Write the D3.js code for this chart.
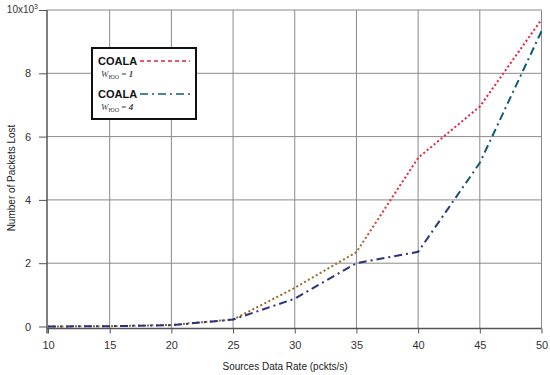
<!DOCTYPE html>
<html><head><meta charset="utf-8">
<script src="https://cdn.jsdelivr.net/npm/d3@7"></script>
<style>
html,body{margin:0;padding:0;background:#fff;}
svg{display:block;font-family:"Liberation Sans",Arial,sans-serif;}
</style></head>
<body>
<svg id="c" width="550" height="375"></svg>
<script>
const rates = [10, 15, 20, 25, 30, 35, 40, 45, 50];
const coalaW1 = [0, 0.01, 0.05, 0.22, 1.22, 2.35, 5.33, 6.95, 9.7];
const coalaW4 = [0, 0.01, 0.04, 0.22, 0.88, 2.0, 2.36, 5.17, 9.33];
const xTicks = [10, 15, 20, 25, 30, 35, 40, 45, 50];
const yTicks = [0, 2, 4, 6, 8, 10];
const xTitle = "Sources Data Rate (pckts/s)";
const yTitle = "Number of Packets Lost";

const svg = d3.select("#c");
const x = d3.scaleLinear().domain([10, 50]).range([48, 541.5]);
const y = d3.scaleLinear().domain([0, 10]).range([326.5, 10]);
const axisY = 328.5, axisX = 47;

const defs = svg.append("defs");
const g1 = defs.append("linearGradient").attr("id","gR").attr("gradientUnits","userSpaceOnUse")
  .attr("x1",0).attr("x2",0).attr("y1",330).attr("y2",10);
g1.append("stop").attr("offset","0").attr("stop-color","#8c6a2e");
g1.append("stop").attr("offset","0.25").attr("stop-color","#a0682c");
g1.append("stop").attr("offset","0.42").attr("stop-color","#e82a3a");
g1.append("stop").attr("offset","1").attr("stop-color","#f0163a");
const g2 = defs.append("linearGradient").attr("id","gB").attr("gradientUnits","userSpaceOnUse")
  .attr("x1",0).attr("x2",0).attr("y1",330).attr("y2",10);
g2.append("stop").attr("offset","0").attr("stop-color","#2c2f7e");
g2.append("stop").attr("offset","0.3").attr("stop-color","#2a3478");
g2.append("stop").attr("offset","0.5").attr("stop-color","#145a72");
g2.append("stop").attr("offset","1").attr("stop-color","#0a5e72");

// gridlines
const grid = svg.append("g").attr("stroke","#8a8a8a").attr("stroke-width",1);
grid.selectAll(".v").data(xTicks.slice(1)).join("line")
  .attr("x1",d=>x(d)).attr("x2",d=>x(d)).attr("y1",y(10)).attr("y2",axisY);
grid.selectAll(".h").data(yTicks.slice(1)).join("line")
  .attr("x1",axisX).attr("x2",x(50)).attr("y1",d=>y(d)).attr("y2",d=>y(d));

// axes
const ax = svg.append("g").attr("transform",`translate(0,${axisY})`)
  .call(d3.axisBottom(x).tickValues(xTicks).tickSize(5).tickPadding(8).tickSizeOuter(0));
ax.select(".domain").attr("d",`M${axisX},0H${x(50)}`).attr("stroke","#555").attr("stroke-width",1.5);
ax.selectAll(".tick line").attr("stroke","#555");
ax.selectAll(".tick text").attr("font-size",11).attr("fill","#333");

const ay = svg.append("g").attr("transform",`translate(${axisX},0)`)
  .call(d3.axisLeft(y).tickValues(yTicks).tickSize(8).tickPadding(8).tickSizeOuter(0).tickFormat(d=> d===10?"":d));
ay.select(".domain").attr("d",`M0,${y(10)}V${axisY+5}`).attr("stroke","#555").attr("stroke-width",1.5);
ay.selectAll(".tick line").attr("stroke","#555");
ay.selectAll(".tick text").attr("font-size",11).attr("fill","#333");
const topLbl = ay.selectAll(".tick").filter(d=>d===10).select("text");
topLbl.text(null).attr("x",-9).attr("font-size",10).attr("dy","0.2em");
topLbl.append("tspan").text("10x10");
topLbl.append("tspan").attr("dy",-4).attr("font-size",7).text("3");

// titles
svg.append("text").attr("x",285).attr("y",370).attr("text-anchor","middle")
  .attr("font-size",10).attr("fill","#222").text(xTitle);
svg.append("text").attr("transform","translate(15,178) rotate(-90)").attr("text-anchor","middle")
  .attr("font-size",10).attr("fill","#222").text(yTitle);

// lines
const line = d3.line().x(d=>x(d[0])).y(d=>y(d[1]));
svg.append("path").datum(rates.map((r,i)=>[r,coalaW1[i]])).attr("d",line)
  .attr("fill","none").attr("stroke","url(#gR)").attr("stroke-width",2).attr("stroke-dasharray","2,2.5");
svg.append("path").datum(rates.map((r,i)=>[r,coalaW4[i]])).attr("d",line)
  .attr("fill","none").attr("stroke","url(#gB)").attr("stroke-width",2).attr("stroke-dasharray","8,4,2,4");

// legend
const lg = svg.append("g");
lg.append("rect").attr("x",92).attr("y",48).attr("width",104).attr("height",71)
  .attr("fill","#fff").attr("stroke","#111").attr("stroke-width",2);
const items = [{lbl:"COALA", w:"1", color:"#e8203a", dash:"4,3", y:65},
               {lbl:"COALA", w:"4", color:"#0e5e72", dash:"8,4,2,4", y:98}];
items.forEach(it=>{
  lg.append("text").attr("x",98).attr("y",it.y).attr("font-size",11).attr("font-weight","bold")
    .attr("fill","#111").text(it.lbl);
  lg.append("line").attr("x1",140).attr("x2",190).attr("y1",it.y-4).attr("y2",it.y-4)
    .attr("stroke",it.color).attr("stroke-width",1.6).attr("stroke-dasharray",it.dash);
  const t = lg.append("text").attr("x",101).attr("y",it.y+12).attr("font-family","'Liberation Serif',serif")
    .attr("font-size",9).attr("fill","#444");
  t.append("tspan").attr("font-style","italic").text("W");
  t.append("tspan").attr("font-size",6).attr("dy",2).text("ЮО");
  t.append("tspan").attr("dy",-2).text(" = ");
  t.append("tspan").attr("font-style","italic").attr("font-weight","bold").text(it.w);
});
</script>
</body></html>
